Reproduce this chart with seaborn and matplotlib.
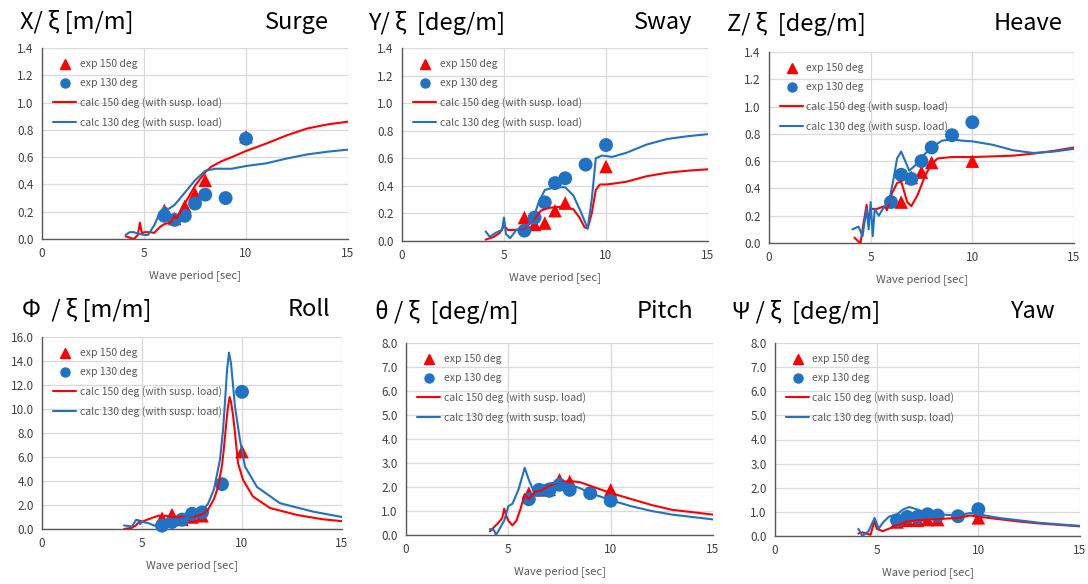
import numpy as np
import pandas as pd
import matplotlib
matplotlib.use("Agg")
import matplotlib.pyplot as plt
import seaborn as sns
from matplotlib.lines import Line2D

sns.set_theme(style="whitegrid")
plt.rcParams['font.family'] = ['Noto Sans CJK JP', 'DejaVu Sans']

W, H = 1088, 584
RED = "#FF0000"
BLUE = "#1F72C4"

# ---------------- data ----------------
# Surge
surge_e150_x = [6.0, 6.5, 7.0, 7.5, 8.0, 10.0]
surge_e150_y = [0.21, 0.15, 0.24, 0.33, 0.43, 0.75]
surge_e130_x = [6.0, 6.5, 7.0, 7.5, 8.0, 9.0, 10.0]
surge_e130_y = [0.17, 0.14, 0.17, 0.26, 0.325, 0.30, 0.735]
surge_c150_x = [4.1, 4.3, 4.5, 4.7, 4.8, 4.9, 5.0, 5.3, 5.5, 5.8, 6.0, 6.3, 6.5, 6.6, 7.0, 7.5, 8.0, 8.3, 8.8, 9.3, 10.0, 11.0, 12.0, 13.0, 14.0, 15.0]
surge_c150_y = [0.02, 0.01, 0.0, 0.03, 0.12, 0.04, 0.05, 0.05, 0.045, 0.09, 0.11, 0.12, 0.17, 0.15, 0.26, 0.39, 0.49, 0.53, 0.57, 0.60, 0.645, 0.70, 0.76, 0.81, 0.84, 0.86]
surge_c130_x = [4.1, 4.3, 4.5, 4.7, 5.0, 5.2, 5.5, 5.8, 6.0, 6.2, 6.5, 7.0, 7.5, 8.0, 8.5, 9.0, 9.3, 10.0, 11.0, 12.0, 13.0, 14.0, 15.0]
surge_c130_y = [0.03, 0.05, 0.05, 0.04, 0.03, 0.03, 0.10, 0.20, 0.23, 0.22, 0.25, 0.34, 0.43, 0.50, 0.515, 0.515, 0.515, 0.535, 0.555, 0.59, 0.62, 0.64, 0.655]

# Sway
sway_e150_x = [6.0, 6.5, 7.0, 7.5, 8.0, 10.0]
sway_e150_y = [0.17, 0.12, 0.13, 0.22, 0.275, 0.54]
sway_e130_x = [6.0, 6.5, 7.0, 7.5, 8.0, 9.0, 10.0]
sway_e130_y = [0.075, 0.17, 0.28, 0.42, 0.455, 0.554, 0.696]
sway_c150_x = [4.1, 4.5, 4.8, 5.0, 5.2, 5.5, 6.0, 6.5, 6.8, 7.2, 7.5, 8.0, 8.4, 8.7, 8.95, 9.1, 9.3, 9.5, 9.7, 10.0, 10.3, 11.0, 12.0, 13.0, 14.0, 15.0]
sway_c150_y = [0.01, 0.03, 0.06, 0.11, 0.08, 0.08, 0.09, 0.16, 0.22, 0.24, 0.245, 0.25, 0.23, 0.17, 0.10, 0.09, 0.2, 0.37, 0.41, 0.41, 0.415, 0.43, 0.47, 0.495, 0.51, 0.52]
sway_c130_x = [4.1, 4.3, 4.6, 4.9, 5.0, 5.1, 5.3, 5.6, 6.0, 6.4, 6.7, 7.0, 7.5, 8.0, 8.4, 8.8, 9.1, 9.3, 9.5, 9.8, 10.3, 11.0, 12.0, 13.0, 14.0, 15.0]
sway_c130_y = [0.07, 0.03, 0.06, 0.08, 0.17, 0.05, 0.02, 0.08, 0.10, 0.15, 0.28, 0.37, 0.39, 0.39, 0.33, 0.20, 0.09, 0.30, 0.60, 0.62, 0.61, 0.64, 0.70, 0.74, 0.76, 0.775]

# Heave
heave_e150_x = [6.0, 6.5, 7.0, 7.5, 8.0, 10.0]
heave_e150_y = [0.32, 0.30, 0.48, 0.52, 0.59, 0.60]
heave_e130_x = [6.0, 6.5, 7.0, 7.5, 8.0, 9.0, 10.0]
heave_e130_y = [0.30, 0.50, 0.47, 0.60, 0.70, 0.79, 0.885]
heave_c150_x = [4.2, 4.4, 4.5, 4.6, 4.8, 4.9, 5.0, 5.3, 5.5, 5.7, 5.8, 6.0, 6.3, 6.5, 6.8, 7.0, 7.3, 7.7, 8.0, 8.3, 9.0, 10.0, 11.0, 12.0, 13.0, 14.0, 15.0]
heave_c150_y = [0.04, 0.01, 0.0, 0.10, 0.28, 0.15, 0.25, 0.25, 0.26, 0.27, 0.24, 0.35, 0.44, 0.45, 0.30, 0.27, 0.35, 0.50, 0.58, 0.62, 0.63, 0.63, 0.635, 0.64, 0.655, 0.675, 0.70]
heave_c130_x = [4.1, 4.4, 4.6, 4.8, 4.9, 5.0, 5.1, 5.2, 5.4, 5.6, 5.9, 6.1, 6.3, 6.5, 6.7, 6.9, 7.2, 7.5, 8.0, 8.5, 9.0, 9.5, 10.0, 11.0, 12.0, 13.0, 14.0, 15.0]
heave_c130_y = [0.10, 0.12, 0.05, 0.25, 0.10, 0.30, 0.05, 0.25, 0.20, 0.25, 0.30, 0.45, 0.62, 0.67, 0.60, 0.53, 0.57, 0.63, 0.70, 0.75, 0.76, 0.75, 0.745, 0.72, 0.68, 0.66, 0.67, 0.69]

# Roll
roll_e150_x = [6.0, 6.5, 7.0, 7.5, 8.0, 10.0]
roll_e150_y = [0.9, 1.2, 0.8, 1.0, 1.1, 6.45]
roll_e130_x = [6.0, 6.5, 7.0, 7.5, 8.0, 9.0, 10.0]
roll_e130_y = [0.28, 0.58, 0.78, 1.27, 1.38, 3.74, 11.43]
roll_c150_x = [4.1, 4.5, 4.7, 4.9, 5.0, 5.3, 5.8, 6.2, 6.5, 7.0, 7.5, 8.0, 8.3, 8.6, 8.8, 9.0, 9.1, 9.2, 9.3, 9.38, 9.45, 9.55, 9.65, 9.8, 10.05, 10.55, 11.4, 12.75, 14.0, 15.0]
roll_c150_y = [0.0, 0.1, 0.3, 0.7, 0.6, 0.8, 1.1, 1.1, 1.0, 1.0, 1.0, 1.2, 1.6, 2.5, 3.5, 5.3, 6.8, 8.6, 10.2, 11.0, 10.6, 9.5, 8.0, 5.5, 4.1, 2.7, 1.75, 1.17, 0.82, 0.65]
roll_c130_x = [4.1, 4.5, 4.7, 4.8, 4.9, 5.0, 5.3, 5.6, 5.9, 6.2, 6.5, 7.0, 7.5, 8.0, 8.3, 8.6, 8.9, 9.05, 9.15, 9.25, 9.35, 9.45, 9.55, 9.65, 9.9, 10.15, 10.75, 11.9, 13.55, 15.0]
roll_c130_y = [0.3, 0.2, 0.75, 0.75, 0.4, 0.6, 0.5, 0.3, 0.2, 0.4, 0.65, 0.85, 1.1, 1.5, 2.1, 3.3, 5.8, 8.2, 10.6, 13.2, 14.7, 13.8, 12.0, 10.2, 7.4, 5.2, 3.5, 2.15, 1.45, 1.0]

# Pitch
pitch_e150_x = [6.0, 6.5, 7.0, 7.5, 8.0, 10.0]
pitch_e150_y = [1.74, 1.88, 1.9, 2.3, 2.23, 1.88]
pitch_e130_x = [6.0, 6.5, 7.0, 7.5, 8.0, 9.0, 10.0]
pitch_e130_y = [1.49, 1.88, 1.84, 2.09, 1.88, 1.74, 1.43]
pitch_c150_x = [4.1, 4.5, 4.7, 4.8, 4.9, 5.0, 5.2, 5.4, 5.6, 5.8, 6.0, 6.3, 6.6, 7.0, 7.5, 8.0, 8.5, 9.0, 10.0, 11.0, 12.0, 13.0, 14.0, 15.0]
pitch_c150_y = [0.15, 0.5, 0.7, 1.1, 0.8, 0.6, 0.4, 0.6, 1.1, 1.7, 1.5, 1.8, 1.85, 2.05, 2.2, 2.25, 2.2, 2.05, 1.75, 1.5, 1.25, 1.05, 0.95, 0.85]
pitch_c130_x = [4.1, 4.3, 4.4, 4.6, 4.8, 5.0, 5.2, 5.5, 5.8, 6.0, 6.2, 6.5, 7.0, 7.5, 8.0, 8.5, 9.0, 10.0, 11.0, 12.0, 13.0, 14.0, 15.0]
pitch_c130_y = [0.25, 0.2, 0.0, 0.3, 0.6, 1.2, 1.3, 1.9, 2.8, 2.3, 1.9, 2.0, 2.15, 2.2, 2.1, 1.95, 1.75, 1.45, 1.2, 1.0, 0.85, 0.75, 0.65]

# Yaw
yaw_e150_x = [6.0, 6.5, 7.0, 7.5, 8.0, 10.0]
yaw_e150_y = [0.58, 0.65, 0.65, 0.68, 0.68, 0.75]
yaw_e130_x = [6.0, 6.5, 7.0, 7.5, 8.0, 9.0, 10.0]
yaw_e130_y = [0.65, 0.79, 0.79, 0.9, 0.85, 0.82, 1.11]
yaw_c150_x = [4.1, 4.3, 4.5, 4.7, 4.9, 5.0, 5.3, 5.6, 6.0, 6.5, 7.0, 8.0, 9.0, 9.6, 10.0, 11.0, 12.0, 13.0, 14.0, 15.0]
yaw_c150_y = [0.1, 0.15, 0.1, 0.05, 0.65, 0.3, 0.2, 0.3, 0.45, 0.6, 0.65, 0.7, 0.75, 0.85, 0.8, 0.7, 0.6, 0.52, 0.46, 0.40]
yaw_c130_x = [4.1, 4.3, 4.6, 4.9, 5.1, 5.3, 5.6, 6.0, 6.3, 6.6, 7.0, 7.5, 8.0, 9.0, 9.6, 10.0, 11.0, 12.0, 13.0, 14.0, 15.0]
yaw_c130_y = [0.3, 0.0, 0.2, 0.75, 0.3, 0.55, 0.8, 0.9, 1.1, 1.2, 1.1, 0.95, 0.9, 0.85, 0.95, 0.9, 0.75, 0.65, 0.55, 0.48, 0.42]

legend_labels = ["exp 150 deg", "exp 130 deg", "calc 150 deg (with susp. load)", "calc 130 deg (with susp. load)"]
xlabel = "Wave period [sec]"

# ---------------- layout (pixels) ----------------
panels = [
    dict(box=(42, 48, 348, 239), ymax=1.4, ystep=0.2,
         e150=(surge_e150_x, surge_e150_y), e130=(surge_e130_x, surge_e130_y),
         c150=(surge_c150_x, surge_c150_y), c130=(surge_c130_x, surge_c130_y),
         tl="X/ ξ [m/m]", tlx=20, tr="Surge", trx=329, ty=22),
    dict(box=(402, 48, 708, 241), ymax=1.4, ystep=0.2,
         e150=(sway_e150_x, sway_e150_y), e130=(sway_e130_x, sway_e130_y),
         c150=(sway_c150_x, sway_c150_y), c130=(sway_c130_x, sway_c130_y),
         tl="Y/ ξ  [deg/m]", tlx=368, tr="Sway", trx=692, ty=23),
    dict(box=(769, 52, 1074, 243), ymax=1.4, ystep=0.2,
         e150=(heave_e150_x, heave_e150_y), e130=(heave_e130_x, heave_e130_y),
         c150=(heave_c150_x, heave_c150_y), c130=(heave_c130_x, heave_c130_y),
         tl="Z/ ξ  [deg/m]", tlx=727, tr="Heave", trx=1062, ty=24),
    dict(box=(42, 337, 342, 529), ymax=16.0, ystep=2.0,
         e150=(roll_e150_x, roll_e150_y), e130=(roll_e130_x, roll_e130_y),
         c150=(roll_c150_x, roll_c150_y), c130=(roll_c130_x, roll_c130_y),
         tl="Φ  / ξ [m/m]", tlx=22, tr="Roll", trx=330, ty=310),
    dict(box=(406, 343, 713, 535), ymax=8.0, ystep=1.0,
         e150=(pitch_e150_x, pitch_e150_y), e130=(pitch_e130_x, pitch_e130_y),
         c150=(pitch_c150_x, pitch_c150_y), c130=(pitch_c130_x, pitch_c130_y),
         tl="θ / ξ  [deg/m]", tlx=375, tr="Pitch", trx=693, ty=312),
    dict(box=(775, 343, 1080, 536), ymax=8.0, ystep=1.0,
         e150=(yaw_e150_x, yaw_e150_y), e130=(yaw_e130_x, yaw_e130_y),
         c150=(yaw_c150_x, yaw_c150_y), c130=(yaw_c130_x, yaw_c130_y),
         tl="Ψ / ξ  [deg/m]", tlx=732, tr="Yaw", trx=1055, ty=312),
]

fig = plt.figure(figsize=(W / 100, H / 100), dpi=100)
fig.patch.set_facecolor("white")

for p in panels:
    x0, y0, x1, y1 = p["box"]
    ax = fig.add_axes([x0 / W, 1 - y1 / H, (x1 - x0) / W, (y1 - y0) / H])
    ax.set_facecolor("white")

    d150 = pd.DataFrame({"x": p["e150"][0], "y": p["e150"][1]})
    d130 = pd.DataFrame({"x": p["e130"][0], "y": p["e130"][1]})
    l150 = pd.DataFrame({"x": p["c150"][0], "y": p["c150"][1]})
    l130 = pd.DataFrame({"x": p["c130"][0], "y": p["c130"][1]})

    sns.scatterplot(data=d150, x="x", y="y", ax=ax, marker="^", s=95, color=RED,
                    edgecolor="none", zorder=3, clip_on=False)
    sns.scatterplot(data=d130, x="x", y="y", ax=ax, marker="o", s=100, color=BLUE,
                    edgecolor="none", zorder=3, clip_on=False)
    sns.lineplot(data=l150, x="x", y="y", ax=ax, color=RED, lw=1.5, sort=False,
                 estimator=None, zorder=4)
    sns.lineplot(data=l130, x="x", y="y", ax=ax, color=BLUE, lw=1.5, sort=False,
                 estimator=None, zorder=4)

    ax.set_xlim(0, 15)
    ax.set_ylim(0, p["ymax"])
    ax.set_xticks([0, 5, 10, 15])
    ax.set_yticks(np.arange(0, p["ymax"] + p["ystep"] / 2, p["ystep"]))
    ax.yaxis.set_major_formatter(matplotlib.ticker.FormatStrFormatter("%.1f"))
    ax.grid(True, color="#D9D9D9", lw=0.9)
    ax.tick_params(axis="both", length=0, labelsize=8.5, labelcolor="#404040", pad=6)
    for s in ["top", "right"]:
        ax.spines[s].set_visible(False)
    for s in ["left", "bottom"]:
        ax.spines[s].set_visible(True)
        ax.spines[s].set_color("#595959")
        ax.spines[s].set_linewidth(1.0)
    ax.set_xlabel(xlabel, fontsize=8, color="#595959", labelpad=7)
    ax.set_ylabel("")

    handles = [
        Line2D([], [], marker="^", color=RED, ls="none", markersize=6.5),
        Line2D([], [], marker="o", color=BLUE, ls="none", markersize=6.5),
        Line2D([], [], color=RED, lw=1.5),
        Line2D([], [], color=BLUE, lw=1.5),
    ]
    ax.legend(handles, legend_labels, loc="upper left", bbox_to_anchor=(0.0, 1.0),
              frameon=False, fontsize=7.5, labelcolor="#595959", handlelength=2.2,
              handletextpad=0.3, labelspacing=0.85, borderpad=0.5, borderaxespad=0.6)

    fig.text(p["tlx"] / W, 1 - p["ty"] / H, p["tl"], fontsize=17, ha="left", va="center",
             color="black", family=['Noto Sans CJK JP', 'DejaVu Sans'])
    fig.text(p["trx"] / W, 1 - p["ty"] / H, p["tr"], fontsize=17, ha="right", va="center",
             color="black", family=['Noto Sans CJK JP', 'DejaVu Sans'])

fig.savefig("out.png", dpi=100, facecolor="white")
